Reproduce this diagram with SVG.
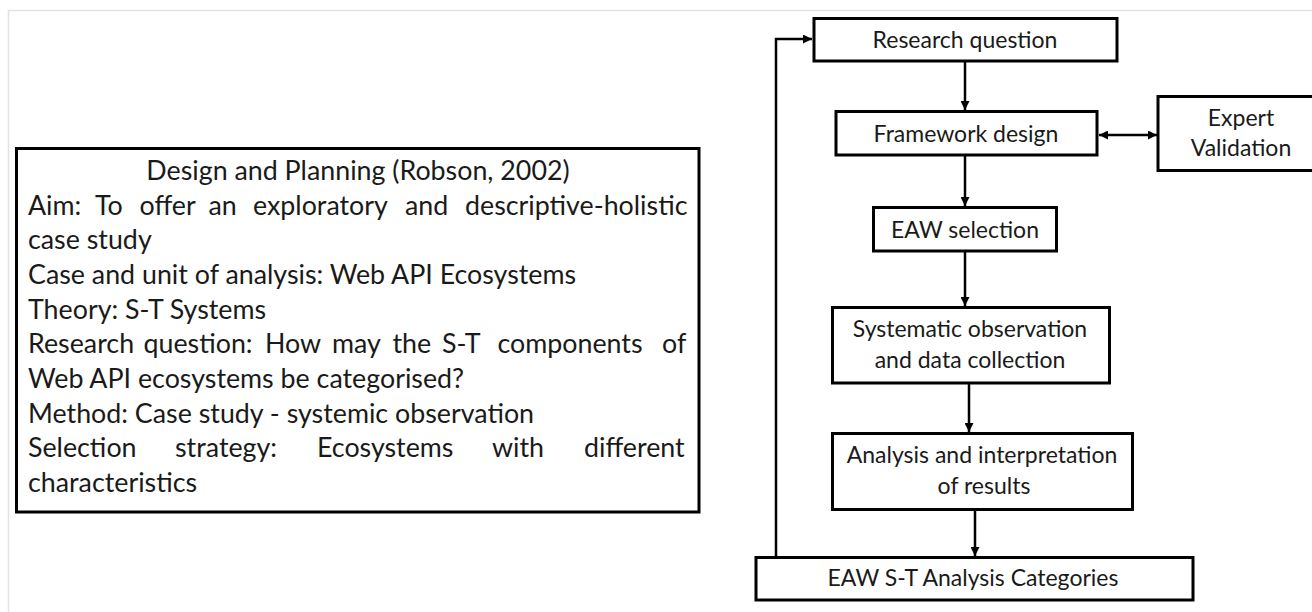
<svg xmlns="http://www.w3.org/2000/svg" width="1312" height="612" viewBox="0 0 1312 612">
<style>
  .box { fill: #ffffff; stroke: #000000; stroke-width: 3; }
  .lbl { font-family: Lato, "Open Sans", "Liberation Sans", sans-serif; font-size: 23px; fill: #1a1a1a; text-anchor: middle; }
  .body { font-family: Lato, "Open Sans", "Liberation Sans", sans-serif; font-size: 26.8px; fill: #1a1a1a; }
  .con { fill: none; stroke: #000000; stroke-width: 2.5; }
  .frame { fill: none; stroke: #e3e3e3; stroke-width: 1.5; }
</style>
<defs>
  <marker id="arr" markerUnits="userSpaceOnUse" viewBox="0 0 10 10" refX="10" refY="5" markerWidth="9" markerHeight="9" orient="auto-start-reverse">
    <path d="M0,0 L10,5 L0,10 z" fill="#000000"/>
  </marker>
</defs>
<rect width="1312" height="612" fill="#ffffff"/>
<path class="frame" d="M8.5,612 L8.5,10.5 L1312,10.5"/>

<g id="design-planning">
  <rect class="box" x="16.5" y="148.5" width="682.5" height="363.5"/>
  <text class="body" x="358" y="180" text-anchor="middle">Design and Planning (Robson, 2002)</text>
  <text class="body" y="214.5"><tspan x="28">Aim:</tspan><tspan x="95">To</tspan><tspan x="139.5">offer</tspan><tspan x="208.5">an</tspan><tspan x="253">exploratory</tspan><tspan x="405">and</tspan><tspan x="465">descriptive-holistic</tspan></text>
  <text class="body" x="28" y="249">case study</text>
  <text class="body" x="28" y="284">Case and unit of analysis: Web API Ecosystems</text>
  <text class="body" x="28" y="318.5">Theory: S-T Systems</text>
  <text class="body" y="353"><tspan x="28">Research</tspan><tspan x="143.5">question:</tspan><tspan x="265">How</tspan><tspan x="332">may</tspan><tspan x="392.5">the</tspan><tspan x="442">S-T</tspan><tspan x="497.5">components</tspan><tspan x="662">of</tspan></text>
  <text class="body" x="28" y="388">Web API ecosystems be categorised?</text>
  <text class="body" x="28" y="422.5">Method: Case study - systemic observation</text>
  <text class="body" y="457"><tspan x="28">Selection</tspan><tspan x="175">strategy:</tspan><tspan x="317">Ecosystems</tspan><tspan x="492">with</tspan><tspan x="584">different</tspan></text>
  <text class="body" x="28" y="492">characteristics</text>
</g>

<g id="connectors">
  <line class="con" x1="965" y1="62" x2="965" y2="110" marker-end="url(#arr)"/>
  <line class="con" x1="965" y1="156" x2="965" y2="206" marker-end="url(#arr)"/>
  <line class="con" x1="965" y1="252" x2="965" y2="306" marker-end="url(#arr)"/>
  <line class="con" x1="969" y1="384" x2="969" y2="432" marker-end="url(#arr)"/>
  <line class="con" x1="975" y1="511" x2="975" y2="556" marker-end="url(#arr)"/>
  <polyline class="con" points="776,557 776,39 812,39" marker-end="url(#arr)"/>
  <line class="con" x1="1099" y1="135" x2="1157" y2="135" marker-start="url(#arr)" marker-end="url(#arr)"/>
</g>

<g id="research-question">
  <rect class="box" x="814" y="18.5" width="303" height="42.5"/>
  <text class="lbl" x="965" y="48">Research question</text>
</g>
<g id="framework-design">
  <rect class="box" x="836" y="111.5" width="261" height="43.5"/>
  <text class="lbl" x="966" y="142">Framework design</text>
</g>
<g id="expert-validation">
  <rect class="box" x="1158" y="96.5" width="160" height="74"/>
  <text class="lbl" x="1241" y="126">Expert</text>
  <text class="lbl" x="1241" y="156">Validation</text>
</g>
<g id="eaw-selection">
  <rect class="box" x="873.5" y="207.5" width="183" height="43.5"/>
  <text class="lbl" x="965" y="238">EAW selection</text>
</g>
<g id="systematic-observation">
  <rect class="box" x="832.5" y="307.5" width="277" height="75.5"/>
  <text class="lbl" x="970" y="337">Systematic observation</text>
  <text class="lbl" x="970" y="368">and data collection</text>
</g>
<g id="analysis-interpretation">
  <rect class="box" x="832.5" y="433.5" width="300" height="76"/>
  <text class="lbl" x="982" y="463">Analysis and interpretation</text>
  <text class="lbl" x="984" y="494">of results</text>
</g>
<g id="eaw-st-categories">
  <rect class="box" x="756" y="557.5" width="437" height="42.5"/>
  <text class="lbl" x="973" y="586">EAW S-T Analysis Categories</text>
</g>
</svg>
